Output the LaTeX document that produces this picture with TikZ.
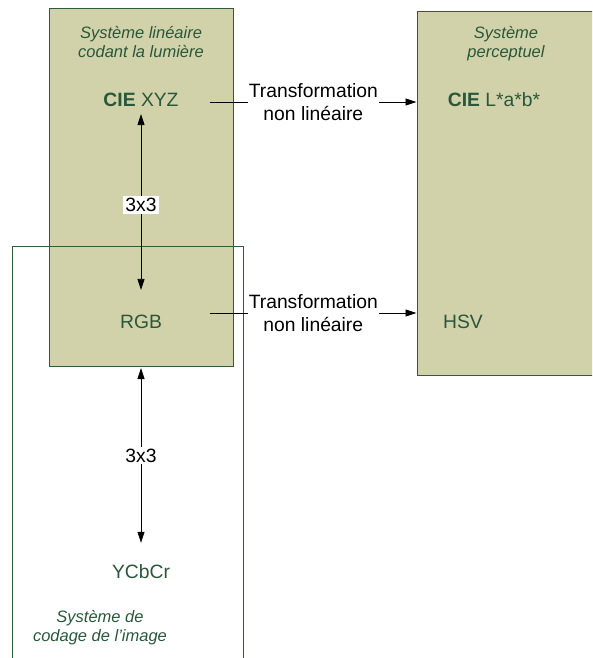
\documentclass[tikz,border=0pt]{standalone}
\usepackage{fontspec}
\setmainfont{Liberation Sans}
\usepackage{tikz}
\usetikzlibrary{arrows.meta, positioning}
\definecolor{boxfill}{HTML}{D2D2AA}
\definecolor{boxline}{HTML}{2F5C3E}
\definecolor{txtgreen}{HTML}{29573A}

\begin{document}
\begin{tikzpicture}[
  x=1pt, y=-1pt,
  every node/.style={font=\fontsize{19.3}{23}\selectfont},
  sysbox/.style={
    rectangle, draw=boxline, line width=1pt, inner sep=0pt
  },
  cspace/.style={text=txtgreen, inner sep=0pt, text height=13.8pt, text depth=0pt},
  systitle/.style={
    text=txtgreen, inner sep=0pt, align=center,
    font=\itshape\fontsize{16.5}{19}\selectfont
  },
  arr/.style={-{Triangle[length=11pt, width=7pt]}, line width=0.8pt},
  dbl/.style={{Triangle[length=11pt, width=7pt]}-{Triangle[length=11pt, width=7pt]}, line width=0.8pt},
  tf/.style={fill=white, inner sep=1pt, align=center},
  mat/.style={fill=white, inner sep=2pt}
]
\clip (0,0) rectangle (592,658);

% the three systems
\node[sysbox, fill=boxfill, minimum width=184pt, minimum height=357pt] (lin) at (141,187.5) {};
\node[sysbox, fill=boxfill, minimum width=193pt, minimum height=363pt] (per) at (513.5,193.5) {};
\node[sysbox, minimum width=231pt, minimum height=434pt] (cod) at (127.5,463) {};

\node[systitle] (linT) at (141,42)    {Système linéaire\\codant la lumière};
\node[systitle] (perT) at (506,43.5)  {Système\\perceptuel};
\node[systitle] (codT) at (100,627.5) {Système de\\codage de l’image};

% colour spaces
\node[cspace] (xyz) at (141,100)   {\textbf{CIE} XYZ};
\node[cspace] (lab) at (494,100)   {\textbf{CIE} L*a*b*};
\node[cspace] (rgb) at (141,322)   {RGB};
\node[cspace] (hsv) at (463,322)   {HSV};
\node[cspace] (ycc) at (141,571.5) {YCbCr};

\draw[dbl, shorten <=7pt, shorten >=25pt] (xyz.south) -- (rgb.north) node[pos=0.47, mat] (m1) {3x3};
\draw[dbl, shorten <=1.5pt, shorten >=21.6pt] (lin.south) -- (ycc.north) node[pos=0.45, mat] (m2) {3x3};

\draw[arr] ([xshift=31.5pt, yshift=-2pt]xyz.east) -- ([yshift=-2pt]xyz.east -| per.west)
  node[midway, tf] (t1) {Transformation\\non linéaire};
\draw[arr] ([xshift=48pt, yshift=9pt]rgb.east) -- ([yshift=9pt]rgb.east -| per.west)
  node[midway, tf] (t2) {Transformation\\non linéaire};
\end{tikzpicture}
\end{document}
